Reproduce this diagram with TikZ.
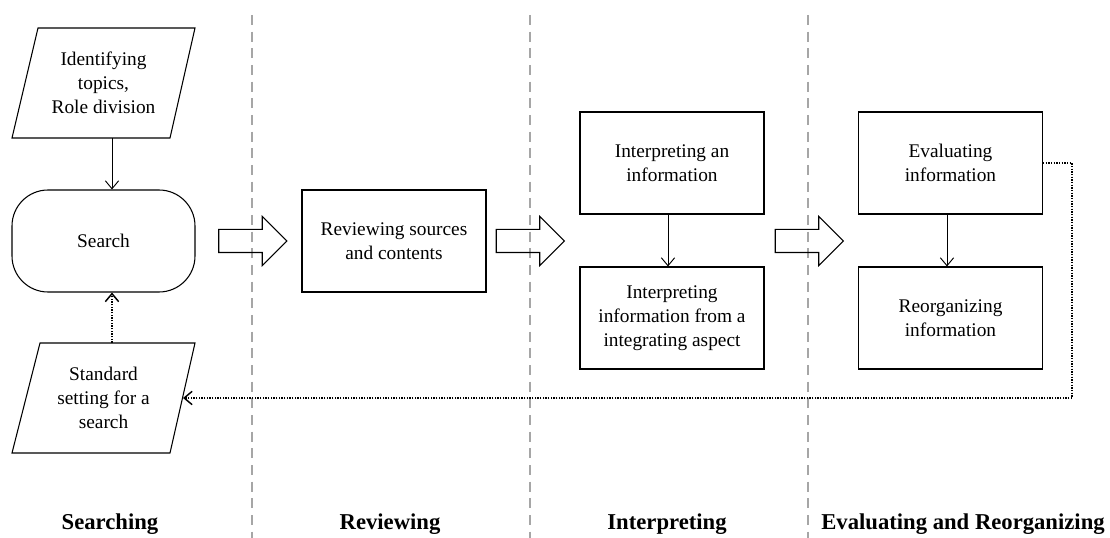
\documentclass[tikz,border=0pt]{standalone}
\usepackage{fontspec}
\setmainfont{Liberation Serif}
\usetikzlibrary{shapes.arrows,arrows.meta}
\begin{document}
\begin{tikzpicture}[x=0.75pt,y=-0.75pt,
  every node/.style={font=\fontsize{14.5}{18}\selectfont, align=center, inner sep=0pt},
  box/.style={draw, line width=0.8pt, minimum width=138pt, minimum height=76.5pt},
  stadium/.style={draw, line width=0.8pt, rounded corners=27pt, minimum width=137.25pt, minimum height=76.5pt},
  para/.style={minimum width=137.25pt, minimum height=82.5pt},
  parashape/.style={draw, line width=0.8pt},
  bigarrow/.style={draw, line width=0.8pt, single arrow, single arrow head extend=9.75pt,
    single arrow head indent=0pt, minimum height=51pt, inner xsep=0pt, inner ysep=8.25pt},
  flow/.style={line width=0.7pt, -{Straight Barb[length=6pt,width=10pt]}},
  back/.style={line width=1.1pt, dash pattern=on 1pt off 1pt, -{Straight Barb[length=6pt,width=10pt]}},
  lane/.style={gray!70, line width=1.3pt, dash pattern=on 7.5pt off 5pt},
  phase/.style={font=\fontsize{17}{20}\selectfont\bfseries}]
\useasboundingbox (0,0) rectangle (1110,538);

% lane separators
\foreach \lx/\nm in {252/l1,530/l2,808/l3}{
  \coordinate (\nm t) at (\lx,15);
  \coordinate (\nm b) at (\lx,538);
  \draw[lane] (\nm t) -- (\nm b);
}

% Searching column
\node[para] (topic) at (103.5,83) {Identifying\\topics,\\Role division};
\draw[parashape] (38,28) -- (195,28) -- (170,138) -- (12,138) -- cycle;
\node[stadium] (search) at (103.5,241) {Search};
\node[para] (std) at (103.5,398) {Standard\\setting for a\\search};
\draw[parashape] (40,343) -- (195,343) -- (170,453) -- (12,453) -- cycle;
\coordinate (ax) at (112,0);
\coordinate (stdin) at (183,398);

% other columns
\node[box] (rev) at (394,241) {Reviewing sources\\and contents};
\node[box] (int1) at (672,163) {Interpreting an\\information};
\node[box] (int2) at (672,318) {Interpreting\\information from a\\integrating aspect};
\node[box] (eval) at (950.5,163) {Evaluating\\information};
\node[box] (reorg) at (950.5,318) {Reorganizing\\information};

% block arrows between phases
\node[bigarrow] (ba1) at (247,241) {};
\node[bigarrow] (ba2) at (524.5,241) {};
\node[bigarrow] (ba3) at (803.5,241) {};

% connectors
\draw[flow] (topic.south -| ax) -- (search.north -| ax);
\draw[back] (std.north -| ax) -- (search.south -| ax);
\draw[flow] (int1.south -| 668,0) -- (int2.north -| 668,0);
\draw[flow] (eval.south -| 947,0) -- (reorg.north -| 947,0);
\coordinate (c1) at (1072,163);
\coordinate (c2) at (1072,398);
\draw[back] (eval.east) -- (c1) -- (c2) -- (stdin);

% phase titles
\node[phase] (p1) at (110,524) {Searching};
\node[phase] (p2) at (390,524) {Reviewing};
\node[phase] (p3) at (667,524) {Interpreting};
\node[phase] (p4) at (963,524) {Evaluating and Reorganizing};
\end{tikzpicture}
\end{document}
